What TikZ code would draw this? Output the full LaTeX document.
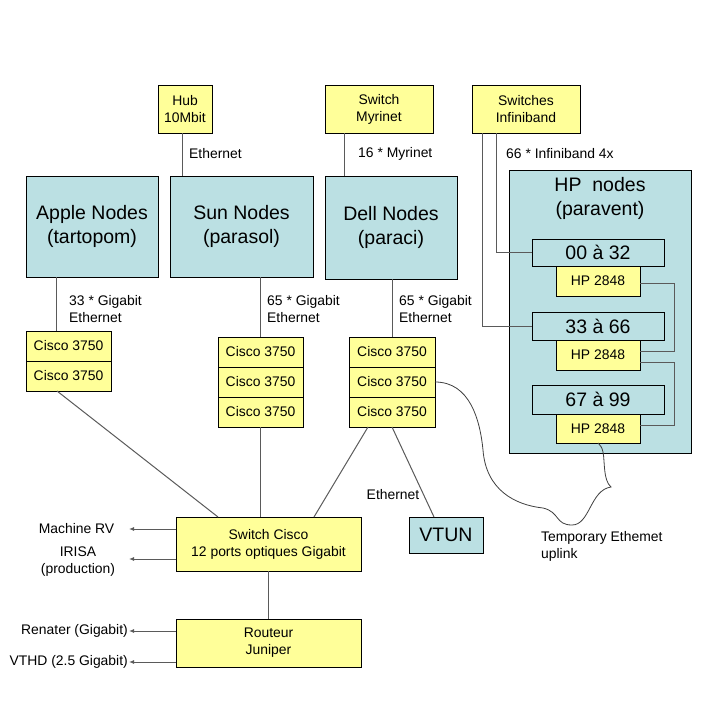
\documentclass[tikz,border=0pt]{standalone}
\usepackage{fontspec}
\setmainfont{Liberation Sans}
\usetikzlibrary{arrows.meta}
\definecolor{boxyellow}{RGB}{255,255,153}
\definecolor{boxcyan}{RGB}{187,224,227}
\definecolor{linegray}{RGB}{90,90,90}
\begin{document}
\begin{tikzpicture}[x=1pt,y=-1pt,
  small/.style={font=\fontsize{13.9}{17}\selectfont},
  big/.style={font=\fontsize{19.5}{24}\selectfont},
  ybox/.style={draw=black,fill=boxyellow,line width=0.9pt,inner sep=0pt,outer sep=0pt,align=center,small},
  cbox/.style={draw=black,fill=boxcyan,line width=0.9pt,inner sep=0pt,outer sep=0pt,align=center,big},
  conn/.style={draw=linegray,line width=1pt},
  arr/.style={conn,-{Latex[length=5pt,width=4pt]}},
  lbl/.style={small,inner sep=0pt,align=left}]
\useasboundingbox (0,0) rectangle (708,720);
\fill[white] (0,0) rectangle (708,720);
% top boxes
\node[ybox,minimum width=54pt,minimum height=48pt] (hub) at (185,109) {Hub\\10Mbit};
\node[ybox,minimum width=108pt,minimum height=48pt] (myr) at (379,109) {Switch\\Myrinet};
\node[ybox,minimum width=108pt,minimum height=48pt] (ib) at (526,109) {Switches\\Infiniband};
% node groups
\node[cbox,minimum width=132pt,minimum height=101pt] (apple) at (92,226.5) {Apple Nodes\\(tartopom)};
\node[cbox,minimum width=143pt,minimum height=101pt] (sun) at (241.5,226.5) {Sun Nodes\\(parasol)};
\node[cbox,minimum width=132pt,minimum height=103pt] (dell) at (391,227.5) {Dell Nodes\\(paraci)};
\node[cbox,minimum width=182pt,minimum height=283pt,anchor=north] (hp) at (600,170) {};
\node[big,align=center,inner sep=0pt] (hptitle) at (600,198) {HP\ \ nodes\\(paravent)};
% connectors into HP
\draw[conn] ([xshift=10pt]ib.south west) |- (598,326);
\draw[conn] ([xshift=24pt]ib.south west) |- (598,252.5);
\node[cbox,minimum width=132pt,minimum height=27pt] (r1) at (598,252.5) {00 à 32};
\node[ybox,minimum width=84pt,minimum height=30pt] (hp1) at (598,281) {HP 2848};
\node[cbox,minimum width=132pt,minimum height=28pt] (r2) at (598,326) {33 à 66};
\node[ybox,minimum width=84pt,minimum height=30pt] (hp2) at (598,355) {HP 2848};
\node[cbox,minimum width=132pt,minimum height=29pt] (r3) at (598,399.5) {67 à 99};
\node[ybox,minimum width=84pt,minimum height=29pt] (hp3) at (598,428.5) {HP 2848};
\draw[conn] ([yshift=-2pt]hp1.east) -- ++(34,0) |- ([yshift=4pt]hp2.east);
\draw[conn] ([yshift=-7pt]hp2.east) -- ++(34,0) |- ([yshift=3pt]hp3.east);
% cisco stacks
\node[ybox,minimum width=85pt,minimum height=30pt] (ac1) at (68.5,346) {Cisco 3750};
\node[ybox,minimum width=85pt,minimum height=30pt] (ac2) at (68.5,376) {Cisco 3750};
\node[ybox,minimum width=85pt,minimum height=30pt] (sc1) at (260.5,352) {Cisco 3750};
\node[ybox,minimum width=85pt,minimum height=30pt] (sc2) at (260.5,382) {Cisco 3750};
\node[ybox,minimum width=85pt,minimum height=30pt] (sc3) at (260.5,412) {Cisco 3750};
\node[ybox,minimum width=86pt,minimum height=30pt] (dc1) at (392,352) {Cisco 3750};
\node[ybox,minimum width=86pt,minimum height=30pt] (dc2) at (392,382) {Cisco 3750};
\node[ybox,minimum width=86pt,minimum height=30pt] (dc3) at (392,412) {Cisco 3750};
% lower boxes
\node[ybox,minimum width=185pt,minimum height=54pt] (sw) at (268.5,544) {Switch Cisco\\12 ports optiques Gigabit};
\node[ybox,minimum width=185pt,minimum height=48pt] (rt) at (268.5,643) {Routeur\\Juniper};
\node[cbox,minimum width=74pt,minimum height=36pt] (vtun) at (446,535) {VTUN};
% vertical connectors
\draw[conn] ([xshift=-3pt]hub.south) -- ([xshift=-3pt]hub.south |- sun.north);
\draw[conn] ([xshift=19pt]myr.south west) -- ([xshift=19pt]myr.south west |- dell.north);
\draw[conn] ([xshift=30pt]apple.south west) -- ([xshift=30pt]apple.south west |- ac1.north);
\draw[conn] (sc1.north |- sun.south) -- (sc1.north);
\draw[conn] (dc1.north |- dell.south) -- (dc1.north);
\draw[conn] ([xshift=-11.5pt]ac2.south) -- ([xshift=-50.5pt]sw.north);
\draw[conn] (sc3.south) -- (sc3.south |- sw.north);
\draw[conn] ([xshift=-24pt]dc3.south) -- ([xshift=45.5pt]sw.north);
\draw[conn] (dc3.south) -- ([xshift=-12pt]vtun.north);
\draw[conn] (sw.south) -- (rt.north);
% temporary uplink
\draw[black!75,line width=0.8pt] (dc2.east) .. controls (470,382) and (480,420) .. (483,450)
  .. controls (486,490) and (515,505) .. (543,508)
  .. controls (560,512) and (555,525) .. (572,525)
  .. controls (590,525) and (590,490) .. (611,487)
  .. controls (603,480) and (605,462) .. (603,452)
  .. controls (602,447) and (600,445) .. (hp3.south);
% labels
\node[lbl,anchor=west] (l1) at (189,154) {Ethernet};
\node[lbl,anchor=west] (l2) at (358,154) {16 * Myrinet};
\node[lbl,anchor=west] (l3) at (506,154) {66 * Infiniband 4x};
\node[lbl,anchor=west] (l4) at (69,309.5) {33 * Gigabit\\Ethernet};
\node[lbl,anchor=west] (l5) at (267,309.5) {65 * Gigabit\\Ethernet};
\node[lbl,anchor=west] (l6) at (399,309.5) {65 * Gigabit\\Ethernet};
\node[lbl] (l7) at (393,495) {Ethernet};
\node[lbl,anchor=west] (l8) at (541,546.5) {Temporary Ethemet\\uplink};
% arrows
\coordinate (tmrv) at (129,529);
\coordinate (tirisa) at (129,559);
\coordinate (tren) at (129,631);
\coordinate (tvthd) at (129,662);
\draw[arr] (sw.west |- tmrv) -- (tmrv);
\draw[arr] (sw.west |- tirisa) -- (tirisa);
\draw[arr] (rt.west |- tren) -- (tren);
\draw[arr] (rt.west |- tvthd) -- (tvthd);
\node[lbl] (mrv) at (76.5,529) {Machine RV};
\node[lbl,align=center] (irisa) at (78,561.5) {IRISA\\(production)};
\node[lbl,anchor=east] (ren) at (128,631) {Renater (Gigabit)};
\node[lbl,anchor=east] (vthd) at (128,662) {VTHD (2.5 Gigabit)};
\end{tikzpicture}
\end{document}
